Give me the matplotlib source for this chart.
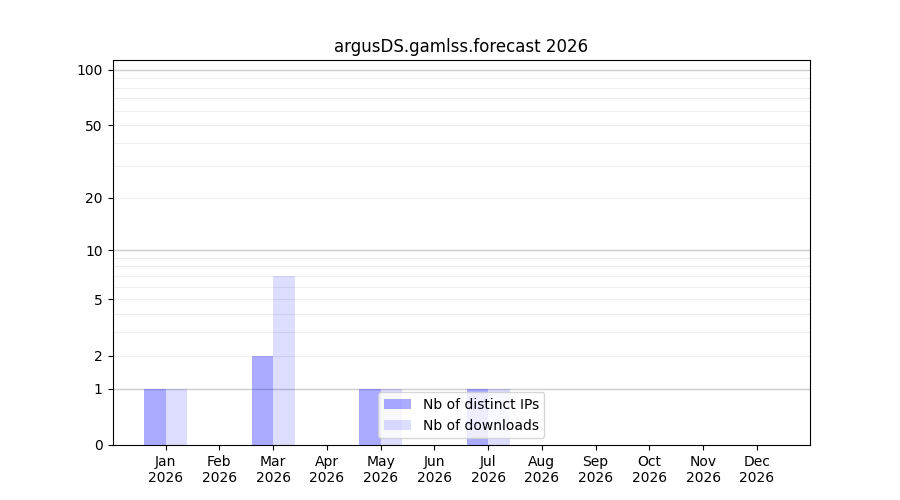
import matplotlib
matplotlib.use("Agg")
import matplotlib.pyplot as plt
import numpy as np

months = ["Jan", "Feb", "Mar", "Apr", "May", "Jun", "Jul", "Aug", "Sep", "Oct", "Nov", "Dec"]
year = "2026"
distinct_ips = [1, 0, 2, 0, 1, 0, 1, 0, 0, 0, 0, 0]
downloads = [1, 0, 7, 0, 1, 0, 1, 0, 0, 0, 0, 0]
y_ticks = [0, 1, 2, 5, 10, 20, 50, 100]
y_major_grid = [1, 10, 100]
y_minor_grid = [2, 3, 4, 5, 6, 7, 8, 9, 20, 30, 40, 50, 60, 70, 80, 90]

fig, ax = plt.subplots(figsize=(9, 5), dpi=100)

ax.set_yscale("function", functions=(lambda v: np.log10(1 + np.clip(v, 0, None)),
                                     lambda v: 10 ** v - 1))

x = np.arange(len(months))
w = 0.4
for yv in y_major_grid:
    ax.axhline(yv, color="#cccccc", lw=1, zorder=0)
for yv in y_minor_grid:
    ax.axhline(yv, color="#eeeeee", lw=0.8, zorder=0)

ax.bar(x - w / 2, distinct_ips, width=w, color="blue", alpha=1 / 3, label="Nb of distinct IPs", zorder=1)
ax.bar(x + w / 2, downloads, width=w, color="blue", alpha=0.135, label="Nb of downloads", zorder=1)

ax.set_xticks(x)
ax.set_xticklabels([f"{m}\n{year}" for m in months])
ax.set_xlim(-0.99, 11.99)
ax.set_ylim(0, 113)
ax.set_yticks(y_ticks)
ax.set_yticklabels([str(t) for t in y_ticks])
ax.yaxis.set_minor_locator(matplotlib.ticker.NullLocator())
ax.set_title("argusDS.gamlss.forecast 2026")
ax.legend(loc="lower center")

fig.savefig("out.png")
